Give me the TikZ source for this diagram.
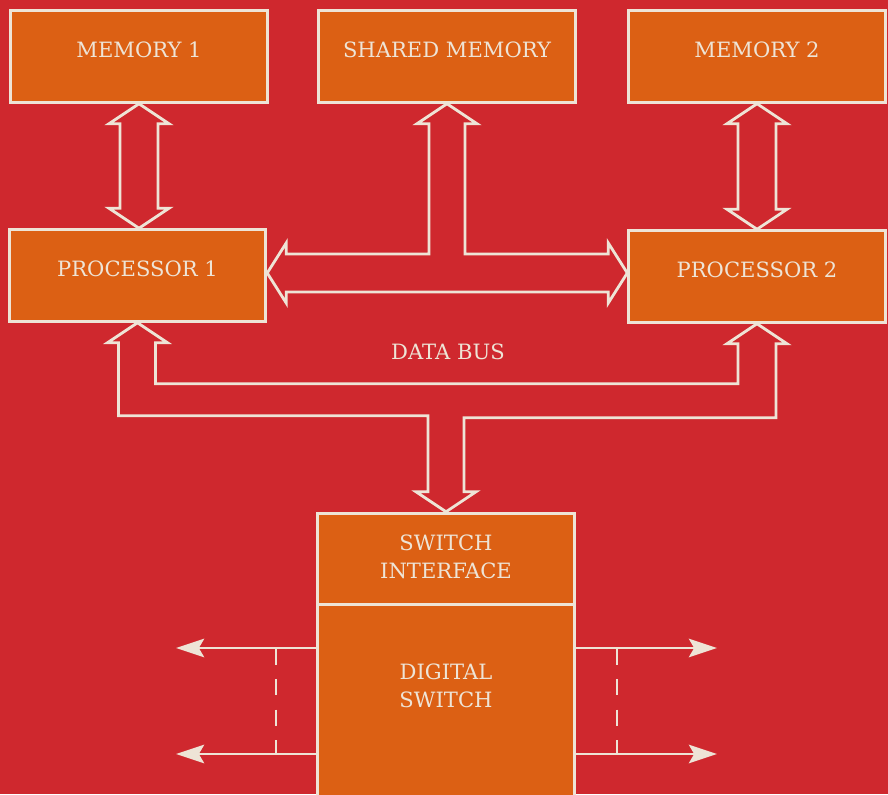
\documentclass[tikz,border=0pt]{standalone}
\usepackage{fontspec}
\setmainfont{DejaVu Serif}
\usetikzlibrary{arrows.meta,calc}
\definecolor{bgred}{RGB}{207,40,46}
\definecolor{boxorange}{RGB}{220,96,20}
\definecolor{cream}{RGB}{238,228,214}
\tikzset{>={Stealth[length=16pt,width=10.5pt,inset=3pt]}}

\begin{document}
\begin{tikzpicture}[x=0.02cm, y=-0.02cm,
  block/.style={draw=cream, fill=boxorange, line width=1.7pt, minimum width=5.13cm,
    minimum height=1.83cm, text=cream, text depth=0.28cm, align=center,
    font=\fontsize{12}{16}\selectfont},
  lbl/.style={text=cream, align=center, font=\fontsize{12}{16}\selectfont},
  hollow/.style={draw=cream, line width=1.6pt, line join=miter},
  wire/.style={draw=cream, line width=1.6pt},
  cut/.style={draw=cream, line width=1.5pt, dash pattern=on 9.5pt off 8pt}]
\fill[bgred] (0,0) rectangle (888,794);
\useasboundingbox (0,0) rectangle (888,794);
% top row
\node[block] (mem1) at (139,56.5) {MEMORY 1};
\node[block] (shmem) at (447,56.5) {SHARED MEMORY};
\node[block] (mem2) at (757,56.5) {MEMORY 2};
% processors
\node[block] (proc1) at (137.5,275.5) {PROCESSOR 1};
\node[block] (proc2) at (757,276.5) {PROCESSOR 2};
% switch
\node[block, minimum height=4cm, anchor=north, yshift=1.7pt] (digsw) at (446,606) {};
\node[block, text depth=0.1cm] (swint) at (446,559) {SWITCH\\INTERFACE};
\node[lbl] (digtxt) at (446,686) {DIGITAL\\SWITCH};
\node[lbl] (dbus) at (448,352) {DATA BUS};
% memory <-> processor
\draw[hollow] (mem1.south) -- ++(30,20) -- ++(-11,0) -- ($(proc1.north)+(20.5,-20)$) -- ++(11,0)
  -- ($(proc1.north)+(1.5,0)$) -- ++(-30,-20) -- ++(11,0) -- ($(mem1.south)+(-19,20)$) -- ++(-11,0) -- cycle;
\draw[hollow] (mem2.south) -- ++(30,20) -- ++(-11,0) -- ($(proc2.north)+(19,-20)$) -- ++(11,0)
  -- (proc2.north) -- ++(-30,-20) -- ++(11,0) -- ($(mem2.south)+(-19,20)$) -- ++(-11,0) -- cycle;
% shared memory bus
\coordinate (lt) at ($(proc1.east)+(0,-2.5)$);
\coordinate (rt) at ($(proc2.west)+(0,-3.5)$);
\draw[hollow] (shmem.south) -- ++(30,20) -- ++(-12,0) |- ($(rt)+(-19,-19)$) -- ++(0,-11)
  -- (rt) -- ++(-19,30) -- ++(0,-11) -- ($(lt)+(19,19)$) -- ++(0,11) -- (lt)
  -- ++(19,-30) -- ++(0,11) -| ($(shmem.south)+(-18,20)$) -- ++(-12,0) -- cycle;
% data bus
\draw[hollow] (proc1.south) -- ++(30,20) -- ++(-12,0) |- ($(proc2.south)+(-19,60)$)
  -- ++(0,-40) -- ++(-11,0) -- (proc2.south) -- ++(30,20) -- ++(-11,0)
  |- ($(swint.north)+(18,-94)$) -- ++(0,74) -- ++(12,0) -- (swint.north) -- ++(-30,-20)
  -- ++(12,0) |- ($(proc1.south)+(-19,93)$) -- ($(proc1.south)+(-19,20)$) -- ++(-11,0) -- cycle;
% switch lines
\foreach \y in {648,754} {
  \draw[wire,->] (digsw.west |- 0,\y) -- (176,\y);
  \draw[wire,->] (digsw.east |- 0,\y) -- (717,\y);
}
\draw[cut] (276,648) -- (276,754);
\draw[cut] (617,648) -- (617,754);
\end{tikzpicture}
\end{document}
